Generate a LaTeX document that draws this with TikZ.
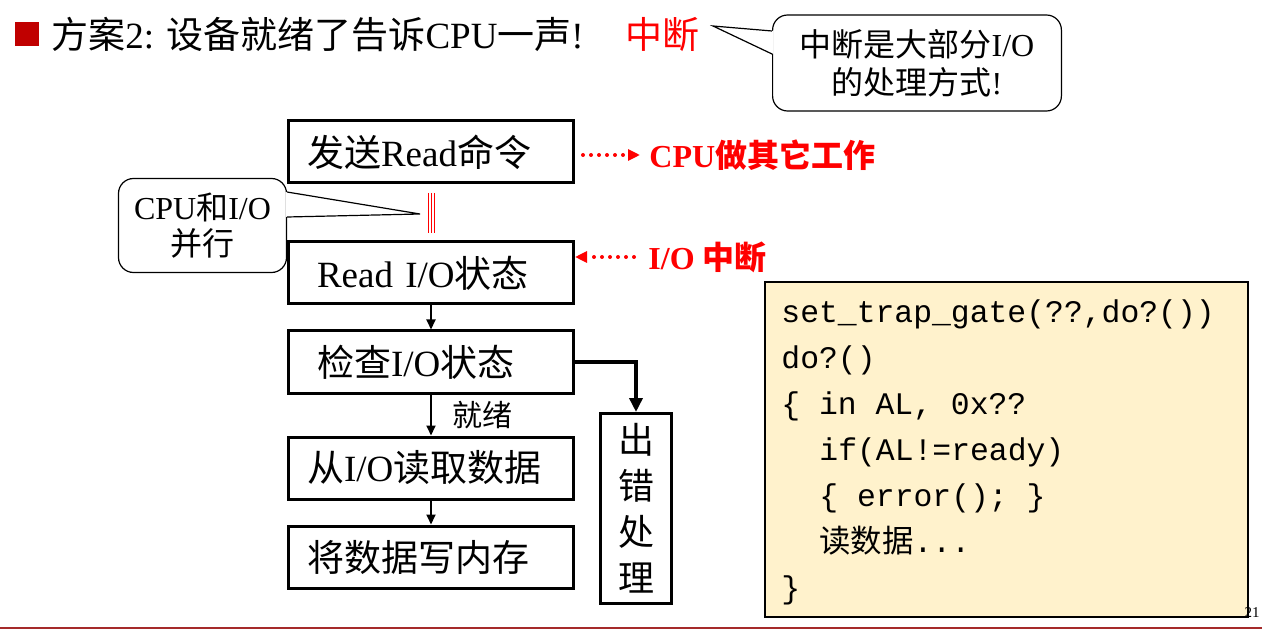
\documentclass[tikz,border=0pt]{standalone}
\usepackage{fontspec}
\setmainfont{Liberation Serif}
\setmonofont{Liberation Mono}
\newfontfamily\cjk{Noto Sans CJK SC}
\newcommand{\zh}[1]{{\cjk #1}}
\usetikzlibrary{positioning}
\usetikzlibrary{arrows.meta}
\definecolor{codebg}{RGB}{255,242,204}
\definecolor{bulletred}{RGB}{192,0,0}
\definecolor{rulered}{RGB}{165,42,42}
\tikzset{
	>={Triangle[length=5pt,width=4.5pt]},
	stepbox/.style={
		rectangle,
		draw=black, line width=1.5pt,
		minimum width=142.5pt,
		minimum height=31pt,
		inner sep=0pt,
		text width=124pt,
		align=left,
		font=\fontsize{18.5}{22}\selectfont},
	callout/.style={
		rectangle,
		rounded corners=7.5pt,
		draw=black, line width=0.6pt,
		fill=white,
		align=center,
		inner sep=0pt},
	flow/.style={->, line width=1pt},
	dotline/.style={red, line width=2pt, line cap=round, dash pattern=on 0pt off 4pt},
	redtip/.style={-{Triangle[length=6pt,width=5.5pt]}},
	redlabel/.style={anchor=west, inner sep=0pt, text=red, font=\bfseries\fontsize{16}{19}\selectfont},
	codeline/.style={anchor=base west, inner sep=0pt, font=\ttfamily\fontsize{15.7}{18}\selectfont},
}

\begin{document}
\begin{tikzpicture}
		[x=0.5pt, y=-0.5pt]
		\useasboundingbox (0,0) rectangle (1262,630);
		% title line
		\fill[bulletred] (15,22) rectangle (39,46);
		\node[anchor=base west, inner sep=0pt, font=\fontsize{18.5}{22}\selectfont] (title) at (51,49) {\zh{方案}2: \zh{设备就绪了告诉}CPU\zh{一声}!};
		\node[anchor=base west, inner sep=0pt, text=red, font=\fontsize{18.5}{22}\selectfont] (titleirq) at (625,49) {\zh{中断}};
		% callouts
		\node[callout, minimum width=144.4pt, minimum height=48pt, font=\fontsize{16}{19}\selectfont] (mainway) at (917,63) {\zh{中断是大部分}I/O\\\zh{的处理方式}!};
		\coordinate (maintip) at (713,26);
		\fill[white] (773.5,31) -- (maintip) -- (773.5,54) -- cycle;
		\draw[line width=0.6pt] (772,31) -- (maintip) -- (772,54);
		\node[callout, minimum width=84pt, minimum height=47pt, font=\fontsize{16}{18}\selectfont] (parallel) at (202.5,225.5) {CPU\zh{和}I/O\\\zh{并行}};
		\coordinate (partip) at (420,214);
		\fill[white] (286,192) -- (partip) -- (286,217) -- cycle;
		\draw[line width=0.6pt] (287,192) -- (partip) -- (287,217);
		\foreach \dx in {0,3,6}
			\draw[red, line width=0.5pt] (428+\dx,193) -- (428+\dx,233);
		% flow boxes
		\node[stepbox] (send) at (431,152) {\zh{发送}Read\zh{命令}};
		\node[stepbox, below=28pt of send] (readst) {\hspace*{5pt}Read I/O\zh{状态}};
		\node[stepbox, below=12pt of readst] (check) {\hspace*{5pt}\zh{检查}I/O\zh{状态}};
		\node[stepbox, below=20.5pt of check] (readdata) {\zh{从}I/O\zh{读取数据}};
		\node[stepbox, below=12pt of readdata] (writemem) {\zh{将数据写内存}};
		\node[rectangle, draw=black, line width=1.5pt, minimum width=35.5pt, minimum height=95pt, inner sep=0pt, align=center, font={\cjk\fontsize{18}{23}\selectfont}] (errbox) at (636,508.5) {出\\错\\处\\理};
		\draw[flow] (readst) -- (check);
		\draw[flow] (check) -- node[midway, right=10pt, inner sep=0pt, font={\cjk\fontsize{15}{18}\selectfont}] (ready) {就绪} (readdata);
		\draw[flow] (readdata) -- (writemem);
		\draw[line width=2pt, -{Triangle[length=7pt,width=6.5pt]}] (check.east) -| (errbox.north);
		% red side notes
		\coordinate (busyend) at (640,155);
		\draw[dotline, redtip, shorten <=4pt] (send.east |- busyend) -- (busyend);
		\node[redlabel, right=4.5pt of busyend] (busy) {CPU\zh{做其它工作}};
		\coordinate (irqstart) at (634,257);
		\draw[dotline, redtip] (irqstart) -- (irqstart -| readst.east);
		\node[redlabel, right=7pt of irqstart] (irq) {I/O \zh{中断}};
		% code
		\node[rectangle, draw=black, line width=0.6pt, fill=codebg, minimum width=241.5pt, minimum height=167.5pt] (codebox) at (1006.5,449.5) {};
		\node[codeline] (c1) at (781,322) {set\_trap\_gate(??,do?())};
		\node[codeline] (c2) at (781,368) {do?()};
		\node[codeline] (c3) at (781,414) {\{ in AL, 0x??};
		\node[codeline] (c4) at (819,460) {if(AL!=ready)};
		\node[codeline] (c5) at (819,506) {\{ error(); \}};
		\node[codeline] (c6) at (819,552) {\zh{读数据}...};
		\node[codeline] (c7) at (781,598) {\}};
		% footer
		\node[anchor=base east, inner sep=0pt, font=\fontsize{7.5}{9}\selectfont] (pagenum) at (1260,617) {21};
		\draw[rulered, line width=1pt] (0,628) -- (1262,628);
		\end{tikzpicture}
\end{document}
